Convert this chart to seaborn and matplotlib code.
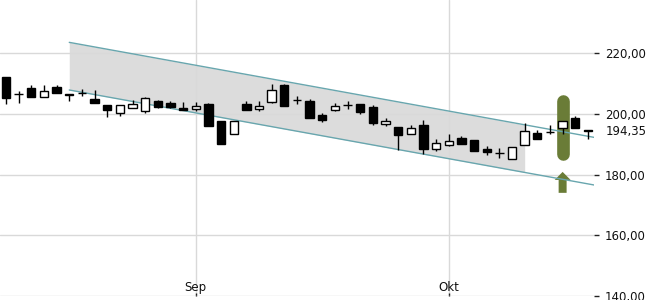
import numpy as np
import pandas as pd
import matplotlib
matplotlib.use("Agg")
import matplotlib.pyplot as plt
import matplotlib.transforms as mtransforms
import seaborn as sns

# ---- data ----
opens = [212.3, 206.5, 208.5, 205.7, 208.8, 206.6, 207.0, 204.9, 203.1, 200.2,
         201.9, 201.1, 204.3, 203.7, 201.9, 201.7, 203.3, 197.7, 193.3, 203.3,
         201.7, 204.1, 209.6, 204.6, 204.4, 199.7, 201.2, 203.0, 203.3, 202.4,
         196.7, 195.6, 193.3, 196.4, 188.5, 189.8, 192.0, 191.4, 188.5, 187.0,
         185.1, 189.7, 193.8, 194.2, 195.4, 198.8, 194.6]
highs = [212.3, 207.6, 209.6, 209.6, 209.6, 206.6, 208.1, 207.9, 203.1, 203.0,
         204.6, 205.7, 204.6, 204.3, 203.9, 203.9, 203.6, 197.7, 197.7, 204.3,
         204.4, 209.8, 209.8, 205.9, 204.8, 200.2, 203.5, 204.3, 203.3, 203.0,
         198.6, 195.6, 196.4, 198.0, 191.8, 193.4, 192.8, 191.4, 189.6, 188.7,
         189.0, 196.9, 194.7, 196.4, 197.8, 199.3, 194.7]
lows = [203.2, 203.7, 205.7, 205.7, 206.8, 204.4, 205.9, 203.5, 199.1, 199.4,
        201.9, 200.4, 201.9, 202.1, 201.4, 201.1, 196.1, 190.0, 193.3, 201.2,
        201.0, 203.7, 202.7, 203.3, 198.8, 197.5, 200.9, 201.5, 199.9, 196.3,
        196.0, 188.1, 193.3, 186.7, 187.8, 189.5, 190.2, 187.8, 186.5, 185.4,
        185.1, 189.7, 191.7, 193.3, 193.3, 195.3, 191.7]
closes = [205.4, 206.5, 205.7, 207.7, 206.8, 206.3, 207.0, 203.5, 201.2, 203.0,
          203.2, 205.2, 202.4, 202.4, 201.4, 202.6, 196.1, 190.0, 197.7, 201.4,
          202.6, 207.9, 202.7, 204.6, 198.8, 198.1, 202.7, 203.0, 200.8, 197.1,
          197.8, 192.9, 195.3, 188.5, 190.3, 191.2, 190.2, 187.8, 187.3, 187.0,
          189.0, 194.4, 191.7, 193.9, 197.8, 195.3, 194.35]

month_ticks = [15, 35]
month_labels = ["Sep", "Okt"]
y_ticks = [140, 160, 180, 200, 220]
last_price = 194.35

channel_x = [5, 47]
channel_upper = [223.6, 191.9]
channel_lower = [207.9, 176.2]
fill_x = [5, 41]
fill_upper = [223.6, 196.4]
fill_lower = [207.9, 180.7]

signal_index = 44
signal_band = [186.9, 204.2]     # pill (line with round caps)
arrow_base, arrow_len = 174.0, 6.9

# ---- style ----
sns.set_theme(style="white")
plt.rcParams["font.family"] = ["DejaVu Sans"]

fig = plt.figure(figsize=(6.5, 3.0), dpi=100)
ax = fig.add_axes([0, 4 / 300, 594 / 650, 296 / 300])

idx = np.arange(len(opens))
o = np.array(opens); c = np.array(closes)
h = np.array(highs); l = np.array(lows)

# channel fill and lines
ax.fill_between(fill_x, fill_lower, fill_upper, color="#dcdcdc", lw=0, zorder=0.3)
df_ch = pd.DataFrame({"x": channel_x, "upper": channel_upper, "lower": channel_lower})
sns.lineplot(data=df_ch, x="x", y="upper", ax=ax, color="#68a6ae", lw=1.0, zorder=3)
sns.lineplot(data=df_ch, x="x", y="lower", ax=ax, color="#68a6ae", lw=1.0, zorder=3)

# signal pill and arrow
green = "#6a7c37"
ax.plot([signal_index, signal_index], signal_band, color=green, lw=9.1,
        solid_capstyle="round", zorder=2)
ax.arrow(signal_index, arrow_base, 0, arrow_len, width=0.63, head_width=1.26,
         head_length=2.64, length_includes_head=True, color=green, lw=0, zorder=2.5)

# candles
ax.vlines(idx, l, h, color="black", lw=1.0, zorder=4)
bottoms = np.minimum(o, c)
heights = np.abs(c - o)
colors = np.where(c > o, "white", "black")
ax.bar(idx, heights, bottom=bottoms, width=0.66, color=colors,
       edgecolor="black", linewidth=1.0, zorder=5)

# axes
ax.set_xlim(-0.474, 46.48)
ax.set_ylim(140, 237.56)
for s in ax.spines.values():
    s.set_visible(False)
ax.set_axisbelow(True)
ax.grid(True, color="#d9d9d9", lw=1.0)
ax.set_xticks(month_ticks)
ax.set_xticklabels(month_labels)
ax.set_yticks(y_ticks)
ax.set_yticklabels([f"{v:.2f}".replace(".", ",") for v in y_ticks])
ax.yaxis.tick_right()
ax.tick_params(axis="y", which="both", right=True, left=False, length=3.6, width=1,
               color="#222222", pad=4.3, labelsize=8.5, labelcolor="#111111")
ax.tick_params(axis="x", which="both", bottom=True, direction="in", length=2.5,
               width=1, color="#222222", pad=-10.5, labelsize=8.5, labelcolor="#111111")
ax.set_xlabel(""); ax.set_ylabel("")

trans = mtransforms.blended_transform_factory(ax.transAxes, ax.transData)
ax.annotate(f"{last_price:.2f}".replace(".", ","), xy=(1.0, last_price), xycoords=trans,
            xytext=(12, 0), textcoords="offset pixels", va="center", ha="left",
            fontsize=8.5, color="#111111", annotation_clip=False)

fig.savefig("out.png", dpi=100)
